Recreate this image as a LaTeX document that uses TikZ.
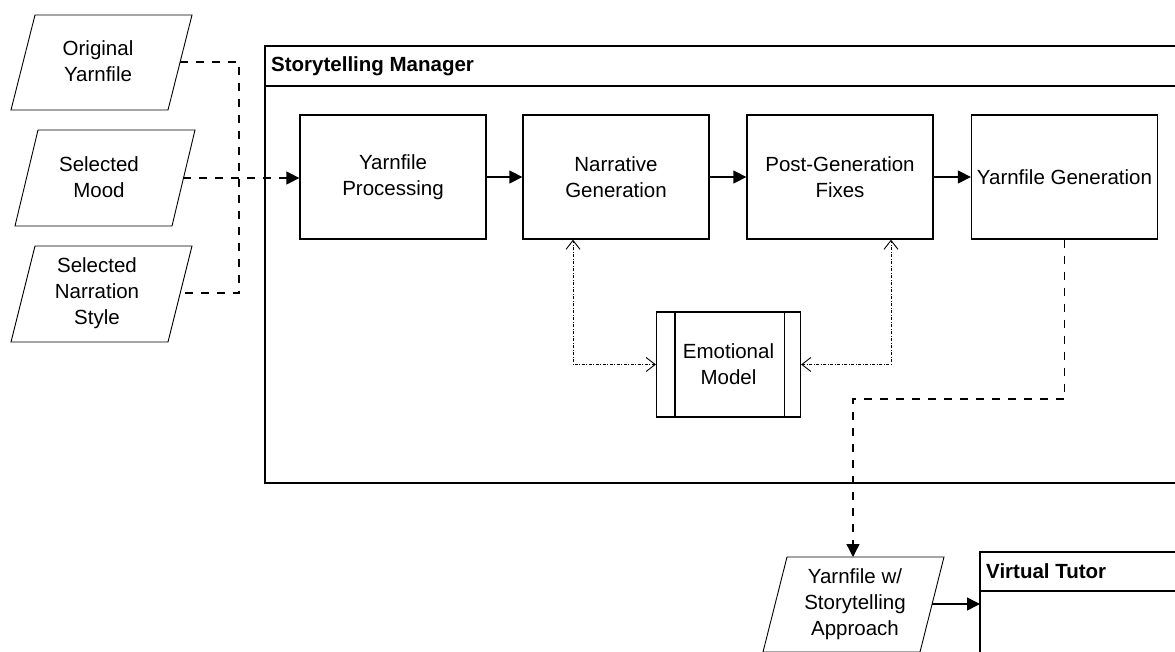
\documentclass[tikz,border=0pt]{standalone}
\usepackage{fontspec}
\setmainfont{Liberation Sans}
\usetikzlibrary{arrows.meta,calc}
\begin{document}
\begin{tikzpicture}[x=1pt,y=-1pt,
  txt/.style={font=\fontsize{20.5}{26}\selectfont, align=center, inner sep=0pt},
  ttl/.style={font=\fontsize{20.5}{26}\selectfont\bfseries, inner sep=0pt, anchor=west},
  proc/.style={draw, line width=1.3pt, minimum width=186pt, minimum height=124pt, txt},
  para/.style={line width=0.9pt},
  frame/.style={line width=1.3pt},
  dl/.style={line width=1.4pt, dash pattern=on 8pt off 8pt},
  sl/.style={line width=1.4pt},
  dt/.style={line width=1pt, dash pattern=on 3pt off 1.5pt on 1pt off 1.5pt},
  tip/.style={-{Triangle[length=13pt,width=13pt]}},
  barb/.style={{Straight Barb[length=9pt,width=14pt,line width=0.9pt]}-{Straight Barb[length=9pt,width=14pt,line width=0.9pt]}}
]
\useasboundingbox (0,0) rectangle (1175,652);
\clip (0,0) rectangle (1175,652);
\fill[white] (0,0) rectangle (1175,652);

% input parallelograms
\draw[para] (35,15) -- (192,15) -- (168,110) -- (11,110) -- cycle;
\node[txt] (orig) at (98,61) {Original\\Yarnfile};
\coordinate (origR) at (180,62);

\draw[para] (38,130) -- (195,130) -- (172,226) -- (15,226) -- cycle;
\node[txt] (mood) at (99,177) {Selected\\Mood};
\coordinate (moodR) at (183,178);

\draw[para] (35,246) -- (192,246) -- (168,342) -- (11,342) -- cycle;
\node[txt] (narr) at (97,293) {Selected\\Narration\\Style};
\coordinate (narrR) at (180,293);

% Storytelling manager container
\draw[frame] (265,46) rectangle (1200,483);
\draw[frame] (265,86) -- (1200,86);
\node[ttl] (smt) at (271,66) {Storytelling Manager};

% process boxes
\node[proc] (yp) at (393,177) {Yarnfile\\Processing};
\node[proc] (ng) at (616,177) {Narrative\\Generation};
\node[proc] (pg) at (840,177) {Post-Generation\\Fixes};
\node[proc] (yg) at (1064.5,177) {Yarnfile Generation};

\draw[sl,tip] (yp.east) -- (ng.west);
\draw[sl,tip] (ng.east) -- (pg.west);
\draw[sl,tip] (pg.east) -- (yg.west);

% inputs to processing
\coordinate (vx) at (239,178);
\draw[dl] (origR) -| (vx) |- (narrR);
\draw[dl,tip] (moodR) -- (moodR -| yp.west);

% emotional model
\node[draw, line width=1.3pt, minimum width=144pt, minimum height=105pt, txt] (em) at (728.5,364.5) {Emotional\\Model};
\draw[line width=1.3pt] ([xshift=19pt]em.north west) -- ([xshift=19pt]em.south west);
\draw[line width=1.3pt] ([xshift=-17pt]em.north east) -- ([xshift=-17pt]em.south east);

\draw[dt,barb] (em.west) -| ([xshift=-43pt]ng.south);
\draw[dt,barb] (em.east) -| ([xshift=51pt]pg.south);

% output
\draw[para] (787,557) -- (944,557) -- (920,652) -- (763,652) -- cycle;
\node[txt] (yo) at (855,604) {Yarnfile w/\\Storytelling\\Approach};
\coordinate (yoT) at (853,557);
\coordinate (yoR) at (932,604);
\coordinate (b2) at (853,399);
\draw[dl,tip] (yg.south) |- (b2) -- (yoT);

% virtual tutor
\draw[frame] (980,552) rectangle (1200,700);
\draw[frame] (980,591) -- (1200,591);
\node[ttl] (vt) at (986,571) {Virtual Tutor};
\coordinate (vtL) at (980,604);
\draw[sl,tip] (yoR) -- (vtL);
\end{tikzpicture}
\end{document}
